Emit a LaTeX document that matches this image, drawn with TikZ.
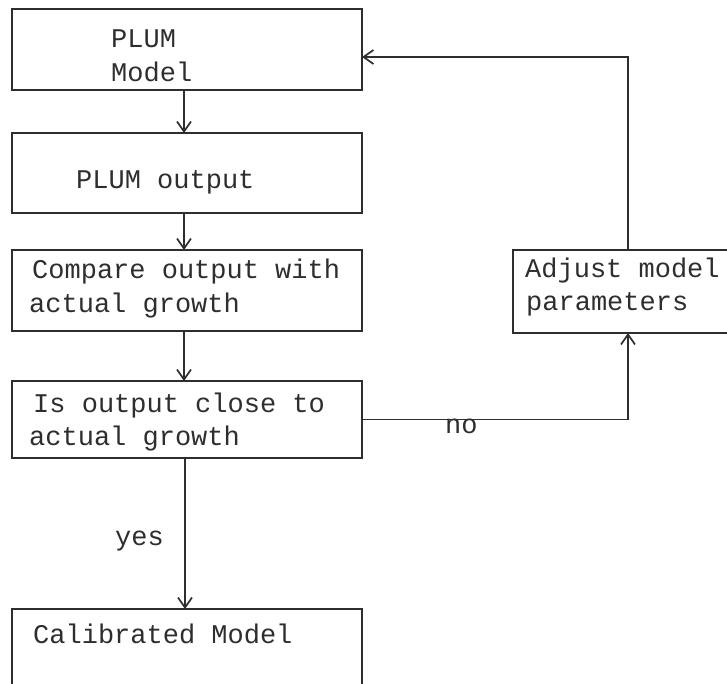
\documentclass[tikz,border=0pt]{standalone}
\usepackage{fontspec}
\setmonofont{Liberation Mono}
\usetikzlibrary{arrows.meta,calc}
\definecolor{ink}{HTML}{2E2E2E}
\begin{document}
\begin{tikzpicture}[x=1pt,y=-1pt,
  box/.style={draw=ink,line width=1.7pt,rectangle,inner sep=0pt,outer sep=0pt},
  txt/.style={anchor=base west,inner sep=0pt,text=ink,font=\ttfamily\fontsize{27}{34}\selectfont},
  flow/.style={draw=ink,line width=1.7pt,-{Straight Barb[length=10pt,width=14pt,line width=1.7pt]}}
]
\useasboundingbox (0,0) rectangle (727,683);
\clip (0,0) rectangle (727,683);

% process boxes
\node[box,minimum width=350pt,minimum height=81pt] (model) at (187,49.5) {};
\node[box,minimum width=350pt,minimum height=80pt] (output) at (187,173) {};
\node[box,minimum width=350pt,minimum height=81pt] (compare) at (187,290.5) {};
\node[box,minimum width=350pt,minimum height=77pt] (close) at (187,419.5) {};
\node[box,minimum width=350pt,minimum height=110pt] (calib) at (187,664) {};
\node[box,minimum width=230pt,minimum height=83pt] (adjust) at (628,291.5) {};

% box texts
\node[txt] (t1a) at (111,47) {PLUM};
\node[txt] (t1b) at (111,81) {Model};
\node[txt] (t2) at (76,188) {PLUM output};
\node[txt] (t3a) at (32,278) {Compare output with};
\node[txt] (t3b) at (29,312) {actual growth};
\node[txt] (t4a) at (33,412) {Is output close to};
\node[txt] (t4b) at (29,445) {actual growth};
\node[txt] (t5) at (33,643) {Calibrated Model};
\node[txt] (t6a) at (525,277) {Adjust model};
\node[txt] (t6b) at (526,310) {parameters};

% branch labels
\node[txt] (yes) at (115,545) {yes};
\node[txt] (no) at (445,433) {no};

% connectors
\draw[flow] (model.south -| 184,0) -- (output.north -| 184,0);
\draw[flow] (output.south -| 184,0) -- (compare.north -| 184,0);
\draw[flow] (compare.south -| 184,0) -- (close.north -| 184,0);
\draw[flow] (close.south -| 185,0) -- (calib.north -| 185,0);
\draw[flow] (close.east) -| (adjust.south);
\draw[flow] (adjust.north) |- ([yshift=-7.5pt]model.east);
\end{tikzpicture}
\end{document}
